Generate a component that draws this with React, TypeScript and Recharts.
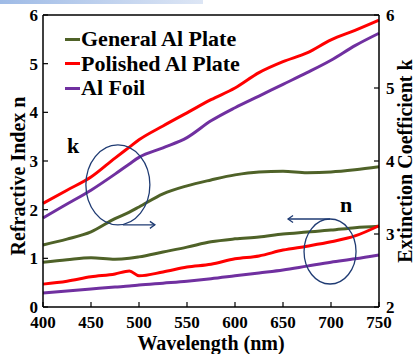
import { LineChart, Line, XAxis, YAxis, ReferenceLine, ReferenceDot, Legend } from 'recharts';

// wavelength grid (nm)
const wavelengths = [400, 425, 450, 475, 490, 500, 525, 550, 575, 600, 625, 650, 675, 700, 725, 750];

// extinction coefficient k (right axis)
const generalK = [2.85, 2.93, 3.03, 3.21, 3.3, 3.37, 3.55, 3.66, 3.74, 3.81, 3.85, 3.86, 3.84, 3.85, 3.88, 3.92];
const polishedK = [3.42, 3.6, 3.78, 4.04, 4.19, 4.29, 4.48, 4.66, 4.84, 5.0, 5.21, 5.36, 5.48, 5.66, 5.79, 5.93];
const foilK = [3.22, 3.41, 3.6, 3.82, 3.96, 4.05, 4.18, 4.32, 4.55, 4.73, 4.89, 5.05, 5.21, 5.38, 5.58, 5.75];

// refractive index n (left axis)
const generalN = [0.92, 0.97, 1.01, 0.98, 1.0, 1.03, 1.13, 1.23, 1.34, 1.4, 1.44, 1.5, 1.54, 1.58, 1.63, 1.66];
const polishedN = [0.47, 0.53, 0.62, 0.68, 0.74, 0.64, 0.72, 0.82, 0.88, 0.99, 1.05, 1.17, 1.25, 1.34, 1.46, 1.67];
const foilN = [0.29, 0.33, 0.37, 0.41, 0.43, 0.45, 0.49, 0.53, 0.58, 0.64, 0.7, 0.76, 0.84, 0.92, 0.99, 1.07];

const legendNames = ['General Al Plate', 'Polished Al Plate', 'Al Foil'];

const xTicks = [400, 450, 500, 550, 600, 650, 700, 750];
const nTicks = [0, 1, 2, 3, 4, 5, 6];
const kTicks = [2, 3, 4, 5, 6];

const rows = wavelengths.map((w, i) => ({
  w,
  gk: generalK[i],
  pk: polishedK[i],
  fk: foilK[i],
  gn: generalN[i],
  pn: polishedN[i],
  fn: foilN[i],
}));

const GREEN = '#4F6228';
const RED = '#FF0000';
const PURPLE = '#7030A0';
const NAVY = '#1F3B73';

const serif = '"Liberation Serif", "Times New Roman", serif';
const tickStyle = { fontSize: 17, fontWeight: 700, fill: '#000', fontFamily: serif };
const titleStyle = { fontSize: 20, fontWeight: 700, fill: '#000', fontFamily: serif };

const leftTitle = (props: any) => {
  const { x, y, height } = props.viewBox;
  const cx = x + 18;
  const cy = y + height / 2 + 15;
  return (
    <text x={cx} y={cy} transform={`rotate(-90 ${cx} ${cy})`} textAnchor="middle" dominantBaseline="central" style={titleStyle}>
      Refractive Index n
    </text>
  );
};

const rightTitle = (props: any) => {
  const { x, y, height } = props.viewBox;
  const cx = x + 26;
  const cy = y + height / 2;
  return (
    <text x={cx} y={cy} transform={`rotate(-90 ${cx} ${cy})`} textAnchor="middle" dominantBaseline="central" style={titleStyle}>
      Extinction Coefficient k
    </text>
  );
};

const bottomTitle = (props: any) => {
  const { x, y, width } = props.viewBox;
  return (
    <text x={x + width / 2} y={y + 43} textAnchor="middle" style={titleStyle}>
      Wavelength (nm)
    </text>
  );
};

const renderLegend = (props: any) => {
  const items = legendNames
    .map((name) => props.payload.find((p: any) => p.value === name))
    .filter(Boolean);
  return (
    <div style={{ fontFamily: serif, fontWeight: 700, fontSize: 22, lineHeight: '24.5px', color: '#000' }}>
      {items.map((p: any) => (
        <div key={p.value} style={{ display: 'flex', alignItems: 'center', whiteSpace: 'nowrap' }}>
          <span style={{ display: 'inline-block', width: 15, height: 3, background: p.color, marginRight: 1 }} />
          {p.value}
        </div>
      ))}
    </div>
  );
};

// circled group marker for k, arrow pointing to the right axis
const kMarker = (props: any) => {
  const { cx, cy } = props;
  return (
    <g>
      <ellipse cx={cx} cy={cy} rx={32} ry={40} fill="none" stroke={NAVY} strokeWidth={1.3} />
      <line x1={cx + 5} y1={cy + 40} x2={cx + 37} y2={cy + 40} stroke={NAVY} strokeWidth={1.3} />
      <polyline points={`${cx + 32},${cy + 36.5} ${cx + 37},${cy + 40} ${cx + 32},${cy + 43.5}`} fill="none" stroke={NAVY} strokeWidth={1.3} />
      <text x={cx - 51} y={cy - 32} style={{ fontSize: 22, fontWeight: 700, fontFamily: serif }} fill="#000">k</text>
    </g>
  );
};

// circled group marker for n, arrow pointing to the left axis
const nMarker = (props: any) => {
  const { cx, cy } = props;
  return (
    <g>
      <ellipse cx={cx} cy={cy} rx={26} ry={32.5} fill="none" stroke={NAVY} strokeWidth={1.3} />
      <line x1={cx} y1={cy - 32.5} x2={cx - 42} y2={cy - 32.5} stroke={NAVY} strokeWidth={1.3} />
      <polyline points={`${cx - 37},${cy - 36} ${cx - 42},${cy - 32.5} ${cx - 37},${cy - 29}`} fill="none" stroke={NAVY} strokeWidth={1.3} />
      <text x={cx + 10} y={cy - 40} style={{ fontSize: 22, fontWeight: 700, fontFamily: serif }} fill="#000">n</text>
    </g>
  );
};

export default function App() {
  return (
    <div style={{ position: 'absolute', left: 0, top: 0, width: 416, height: 354, background: '#fff' }}>
      <div style={{ position: 'absolute', left: 0, top: 0, width: 203, height: 4, background: 'linear-gradient(90deg, #9fbbe6, #dde6f5)' }} />
      <LineChart width={416} height={354} data={rows} margin={{ top: 15, right: 0, bottom: 0, left: 0 }}>
        <XAxis
          dataKey="w"
          type="number"
          domain={[400, 750]}
          ticks={xTicks}
          height={47}
          tick={tickStyle}
          tickSize={-5}
          tickMargin={14}
          axisLine={{ stroke: '#000', strokeWidth: 1.5 }}
          tickLine={{ stroke: '#000', strokeWidth: 1.2 }}
          label={bottomTitle}
        />
        <YAxis
          yAxisId="left"
          domain={[0, 6]}
          ticks={nTicks}
          width={43}
          tick={tickStyle}
          tickSize={-5}
          tickMargin={10}
          axisLine={{ stroke: '#000', strokeWidth: 1.5 }}
          tickLine={{ stroke: '#000', strokeWidth: 1.2 }}
          label={leftTitle}
        />
        <YAxis
          yAxisId="right"
          orientation="right"
          domain={[2, 6]}
          ticks={kTicks}
          width={37}
          tick={tickStyle}
          tickSize={-5}
          tickMargin={12}
          axisLine={{ stroke: '#000', strokeWidth: 1.5 }}
          tickLine={{ stroke: '#000', strokeWidth: 1.2 }}
          label={rightTitle}
        />
        <ReferenceLine yAxisId="left" y={6} stroke="#000" strokeWidth={1.5} />
        <Legend
          layout="vertical"
          verticalAlign="middle"
          align="center"
          wrapperStyle={{ top: 27, left: 65, width: 200 }}
          content={renderLegend}
        />
        <Line yAxisId="right" dataKey="gk" name="General Al Plate" type="monotone" stroke={GREEN} strokeWidth={3} dot={false} isAnimationActive={false} />
        <Line yAxisId="right" dataKey="pk" name="Polished Al Plate" type="monotone" stroke={RED} strokeWidth={3} dot={false} isAnimationActive={false} />
        <Line yAxisId="right" dataKey="fk" name="Al Foil" type="monotone" stroke={PURPLE} strokeWidth={3} dot={false} isAnimationActive={false} />
        <Line yAxisId="left" dataKey="gn" name="gn" type="monotone" stroke={GREEN} strokeWidth={3} dot={false} legendType="none" isAnimationActive={false} />
        <Line yAxisId="left" dataKey="pn" name="pn" type="monotone" stroke={RED} strokeWidth={3} dot={false} legendType="none" isAnimationActive={false} />
        <Line yAxisId="left" dataKey="fn" name="fn" type="monotone" stroke={PURPLE} strokeWidth={3} dot={false} legendType="none" isAnimationActive={false} />
        <ReferenceDot yAxisId="left" x={478} y={2.51} shape={kMarker} />
        <ReferenceDot yAxisId="left" x={699} y={1.14} shape={nMarker} />
      </LineChart>
    </div>
  );
}
